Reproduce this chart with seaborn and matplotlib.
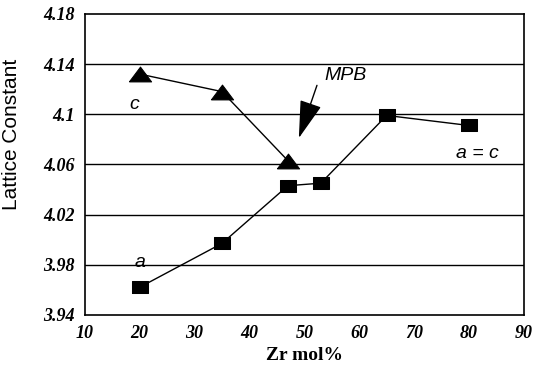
import numpy as np
import pandas as pd
import seaborn as sns
import matplotlib.pyplot as plt
from matplotlib.ticker import FixedLocator, MultipleLocator

zr_a = [20, 35, 47, 53, 65, 80]
lat_a = [3.962, 3.997, 4.043, 4.045, 4.099, 4.091]
zr_c = [20, 35, 47]
lat_c = [4.132, 4.118, 4.063]
y_ticks = [3.94, 3.98, 4.02, 4.06, 4.10, 4.14, 4.18]
y_labels = ['3.94', '3.98', '4.02', '4.06', '4.1', '4.14', '4.18']

sns.set_style("white")
plt.rcParams['font.family'] = ['Liberation Sans', 'DejaVu Sans']
plt.rcParams['text.color'] = 'black'
plt.rcParams['axes.labelcolor'] = 'black'

fig = plt.figure(figsize=(5.33, 3.74), dpi=100)
ax = fig.add_axes([0.159, 0.158, 0.824, 0.805])

rect = [(-1.5, -1), (1.5, -1), (1.5, 1), (-1.5, 1), (-1.5, -1)]
tri = [(-1.5, -1), (1.5, -1), (0, 1), (-1.5, -1)]

for y in y_ticks[1:-1]:
    ax.axhline(y, color='black', lw=1.0, zorder=1)

sns.lineplot(x=zr_a, y=lat_a, ax=ax, color='black', lw=1.0, marker=rect,
             markersize=12, markeredgecolor='black', zorder=3)
sns.lineplot(x=zr_c, y=lat_c, ax=ax, color='black', lw=1.0, marker=tri,
             markersize=16, markeredgecolor='black', zorder=3)

ax.set_xlim(10, 90)
ax.set_ylim(3.94, 4.18)
ax.xaxis.set_major_locator(MultipleLocator(10))
ax.xaxis.set_minor_locator(MultipleLocator(5))
ax.yaxis.set_major_locator(FixedLocator(y_ticks))
ax.yaxis.set_minor_locator(FixedLocator([v + 0.02 for v in y_ticks[:-1]]))
ax.set_yticklabels(y_labels)

ax.tick_params(which='major', direction='inout', length=7, width=1.2, colors='black')
ax.tick_params(which='minor', direction='inout', length=5, width=1.2, colors='black')
for lab in ax.get_xticklabels() + ax.get_yticklabels():
    lab.set_family('Liberation Serif')
    lab.set_style('italic')
    lab.set_weight('bold')
    lab.set_fontsize(13)

for sp in ax.spines.values():
    sp.set_color('black')
    sp.set_linewidth(1.2)

ax.set_xlabel('Zr mol%', family='Liberation Serif', weight='bold', fontsize=14)
ax.set_ylabel('Lattice Constant', fontsize=15)
ax.yaxis.set_label_coords(-0.145, 0.6)

ax.text(19, 4.108, 'c', style='italic', fontsize=14, ha='center', va='center')
ax.text(20, 3.982, 'a', style='italic', fontsize=14, ha='center', va='center')
ax.text(81.5, 4.069, 'a = c', style='italic', fontsize=14, ha='center', va='center')
ax.text(57.5, 4.131, 'MPB', style='italic', fontsize=14, ha='center', va='center')
ax.annotate('', xy=(49.0, 4.081), xytext=(52.3, 4.123), fontsize=14,
            arrowprops=dict(arrowstyle='-|>,head_length=1.7,head_width=0.5', color='black',
                            lw=1.0, shrinkA=0, shrinkB=0))

fig.savefig('out.png', dpi=100)
